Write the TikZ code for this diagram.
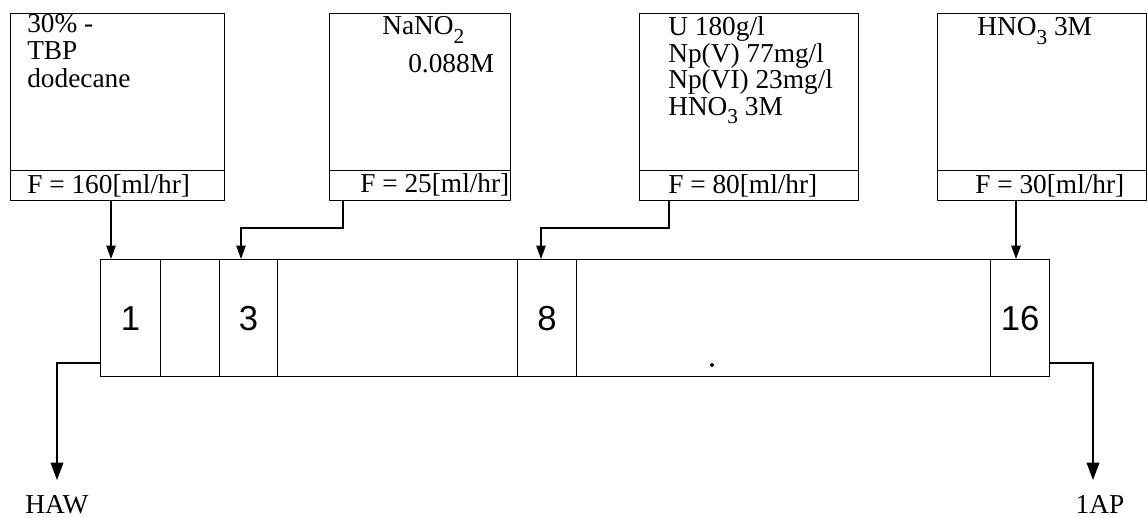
\documentclass[tikz,border=0pt]{standalone}
\usepackage{fontspec}
\setmainfont{Liberation Serif}
\setsansfont{Liberation Sans}
\usetikzlibrary{arrows.meta}
\newcommand{\chemsub}[1]{\raisebox{-6.5pt}{\fontsize{16}{16}\selectfont #1}}
\begin{document}
\begin{tikzpicture}[x=0.75pt,y=-0.75pt,
  feedbox/.style={draw,line width=1pt,inner sep=0pt,anchor=north west},
  cell/.style={draw,line width=0.9pt,inner sep=0pt,anchor=north west,minimum height=87.75pt,
    font=\sffamily\fontsize{26}{26}\selectfont},
  txt/.style={anchor=base west,inner sep=0pt,font=\fontsize{20.5}{23}\selectfont},
  lbl/.style={anchor=base,inner sep=0pt,font=\fontsize{20.5}{23}\selectfont},
  feed/.style={line width=1pt,-{Triangle[length=10pt,width=7pt]}},
  outflow/.style={line width=1pt,-{Triangle[length=13pt,width=9.5pt]}}]
\useasboundingbox (0,0) rectangle (1148,517);

% feed boxes
\node[feedbox,minimum width=160.5pt,minimum height=117.75pt] (b1) at (10,13) {};
\node[feedbox,minimum width=160.5pt,minimum height=22.5pt] (f1) at (10,170) {};
\node[feedbox,minimum width=135.75pt,minimum height=117.75pt] (b2) at (329,13) {};
\node[feedbox,minimum width=135.75pt,minimum height=22.5pt] (f2) at (329,170) {};
\node[feedbox,minimum width=164.25pt,minimum height=117.75pt] (b3) at (639,13) {};
\node[feedbox,minimum width=164.25pt,minimum height=22.5pt] (f3) at (639,170) {};
\node[feedbox,minimum width=156.75pt,minimum height=117.75pt] (b4) at (937,13) {};
\node[feedbox,minimum width=156.75pt,minimum height=22.5pt] (f4) at (937,170) {};

% box texts
\node[txt] (t1a) at (27,33) {30\% -};
\node[txt] (t1b) at (27,60) {TBP};
\node[txt] (t1c) at (27,87) {dodecane};
\node[txt] (t2a) at (382,35) {NaNO\chemsub{2}};
\node[txt] (t2b) at (408,73) {0.088M};
\node[txt] (t3a) at (668,36) {U 180g/l};
\node[txt] (t3b) at (668,63) {Np(V) 77mg/l};
\node[txt] (t3c) at (668,89) {Np(VI) 23mg/l};
\node[txt] (t3d) at (668,115) {HNO\chemsub{3} 3M};
\node[txt] (t4a) at (977,36) {HNO\chemsub{3} 3M};

\node[txt] (r1) at (27,193) {F = 160[ml/hr]};
\node[txt] (r2) at (360,192) {F = 25[ml/hr]};
\node[txt] (r3) at (668,193) {F = 80[ml/hr]};
\node[txt] (r4) at (975,193) {F = 30[ml/hr]};

% column cells
\node[cell,minimum width=45pt] (c1) at (100,259) {1};
\node[cell,minimum width=44.25pt] (c2) at (160,259) {};
\node[cell,minimum width=43.5pt] (c3) at (219,259) {3};
\node[cell,minimum width=180pt] (c4) at (277,259) {};
\node[cell,minimum width=44.25pt] (c8) at (517,259) {8};
\node[cell,minimum width=310.5pt] (c9) at (576,259) {};
\node[cell,minimum width=44.25pt] (c16) at (990,259) {16};

\fill (712,365) circle[radius=2];

% feed connectors
\coordinate (p1) at (111,0);
\coordinate (p2) at (343,228);
\coordinate (q2) at (241,0);
\coordinate (p3) at (669,228);
\coordinate (q3) at (541,0);
\coordinate (p4) at (1016,0);
\draw[feed] (f1.south -| p1) -- (c1.north -| p1);
\draw[feed] (f2.south -| p2) -- (p2) -| (c3.north -| q2);
\draw[feed] (f3.south -| p3) -- (p3) -| (c8.north -| q3);
\draw[feed] (f4.south -| p4) -- (c16.north -| p4);

% outflows
\coordinate (ex) at (0,363);
\coordinate (hawtip) at (57,480);
\coordinate (iaptip) at (1093,480);
\node[lbl] (haw) at (57,513) {HAW};
\node[lbl] (iap) at (1100,513) {1AP};
\draw[outflow] (c1.west |- ex) -| (hawtip);
\draw[outflow] (c16.east |- ex) -| (iaptip);
\end{tikzpicture}
\end{document}
